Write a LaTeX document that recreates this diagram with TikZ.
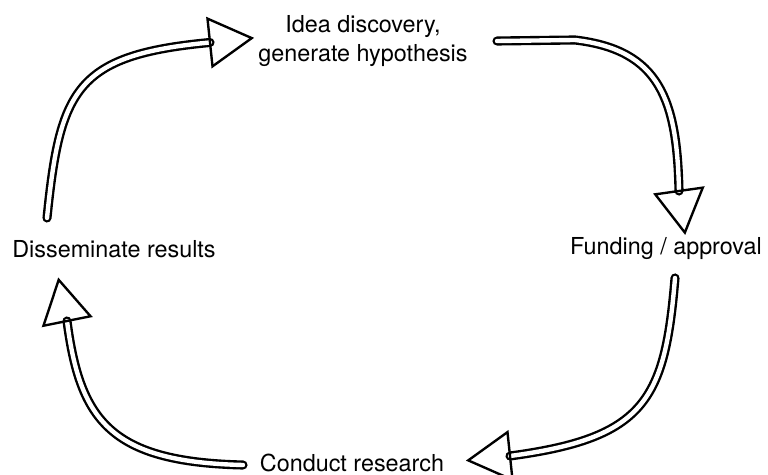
\documentclass[tikz,border=0pt]{standalone}
\usepackage{fontspec}
\setmainfont{TeX Gyre Heros}
\usetikzlibrary{calc}

\newcommand{\openhead}[2]{%
  \draw [head] ($(#1)+(#2+90:24)$) -- ($(#1)+(#2:42)$) -- ($(#1)+(#2-90:24)$) -- cycle;}

\begin{document}
\begin{tikzpicture}[x=0.02cm, y=-0.02cm,
  tube/.style={double=white, double distance=2.5pt, line width=1.35pt, line cap=round},
  head/.style={line width=1.35pt, line join=miter},
  label/.style={font=\fontsize{13.3}{16.5}\selectfont, inner sep=0pt, align=center}]
\useasboundingbox (0,0) rectangle (768,475);

\node [label] (idea) at (363, 41) {Idea discovery,\\generate hypothesis};
\node [label, anchor=base] (fund) at (666, 255) {Funding / approval};
\node [label, anchor=base] (conduct) at (352, 472) {Conduct research};
\node [label, anchor=base] (dissem) at (114, 258) {Disseminate results};

\coordinate (s1) at (47, 218);
\coordinate (e1) at (210, 42.5);
\coordinate (s2) at (497, 41);
\coordinate (e2) at (679, 191);
\coordinate (s3) at (675, 278);
\coordinate (e3) at (510, 456);
\coordinate (s4) at (243, 465);
\coordinate (e4) at (67, 321);

\draw [tube] (s1) .. controls (60, 90) and (75, 55) .. (e1);
\draw [tube] (s2) -- (575, 40) .. controls (660, 50) and (677, 100) .. (e2);
\draw [tube] (s3) .. controls (665, 400) and (645, 438) .. (e3);
\draw [tube] (s4) .. controls (110, 462) and (80, 420) .. (e4);

\openhead{e1}{-6}
\openhead{e2}{82}
\openhead{e3}{174}
\openhead{e4}{258.6}

\end{tikzpicture}
\end{document}
